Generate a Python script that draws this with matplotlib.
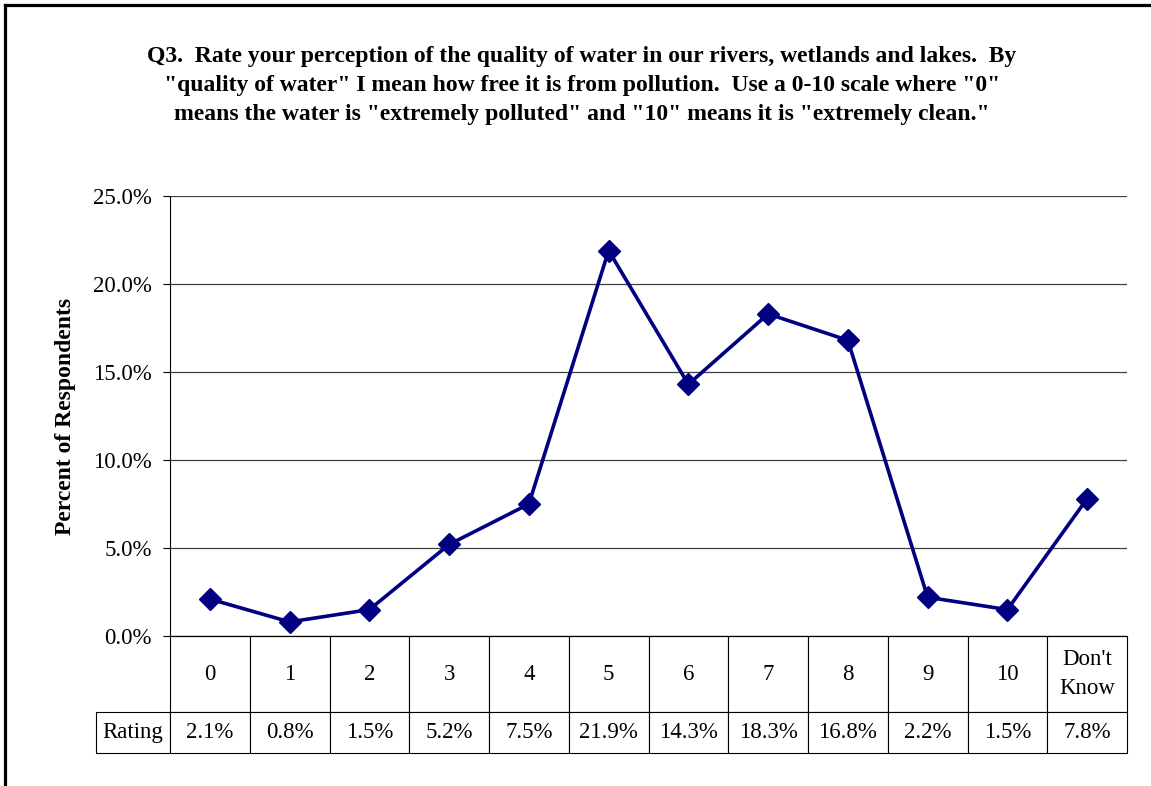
import matplotlib.pyplot as plt
from matplotlib.lines import Line2D

categories = ["0", "1", "2", "3", "4", "5", "6", "7", "8", "9", "10", "Don't\nKnow"]
pct = [2.1, 0.8, 1.5, 5.2, 7.5, 21.9, 14.3, 18.3, 16.8, 2.2, 1.5, 7.8]
row_label = "Rating"
yticks = [0, 5, 10, 15, 20, 25]
title = ('Q3.  Rate your perception of the quality of water in our rivers, wetlands and lakes.  By\n'
         '"quality of water" I mean how free it is from pollution.  Use a 0-10 scale where "0"\n'
         'means the water is "extremely polluted" and "10" means it is "extremely clean."')
caption = "Figure 3:  Rating by Area Residents of Water Quality"

plt.rcParams["font.family"] = ["Liberation Serif", "DejaVu Serif"]

W, H = 1151, 786
fig = plt.figure(figsize=(W / 100, H / 100), dpi=100)
ax = fig.add_axes([170 / W, 150 / H, 957 / W, 440 / H])

x = list(range(len(categories)))
ax.plot(x, pct, color="#000080", lw=2.6, marker="D", ms=11.5, zorder=3)
ax.set_xlim(-0.5, len(categories) - 0.5)
ax.set_ylim(0, 25)
ax.set_yticks(yticks)
ax.set_yticklabels([f"{v:.1f}%" for v in yticks], fontsize=16.5)
ax.tick_params(axis="y", length=5, width=0.8, pad=8)
ax.set_xticks([])
ax.grid(axis="y", color="#404040", lw=0.9)
ax.set_axisbelow(True)
for s in ["top", "right"]:
    ax.spines[s].set_visible(False)
ax.spines["left"].set_linewidth(0.8)
ax.spines["bottom"].set_linewidth(0.8)
ax.set_ylabel("Percent of Respondents", fontsize=17, fontweight="bold", labelpad=12)

# data table under the axis, like the spreadsheet chart
cell_text = [[row_label] + [f"{v:.1f}%" for v in pct]]
col_labels = [""] + categories
tbl = ax.table(cellText=cell_text, colLabels=col_labels, cellLoc="center",
               bbox=[-74 / 957, -117 / 440, 1031 / 957, 117 / 440])
tbl.auto_set_font_size(False)
tbl.set_fontsize(16.5)
for (r, c), cell in tbl.get_celld().items():
    cell.set_linewidth(0.8)
    cell.set_height(76 if r == 0 else 41)
    cell.set_width(74 if c == 0 else 79.75)
    cell.PAD = 0.02
    cell.get_text().set_linespacing(1.55)
    if r == 0 and c == 0:
        cell.visible_edges = ""

fig.suptitle(title, x=582 / W, y=1 - 46 / H, fontsize=17, fontweight="bold",
             linespacing=1.5, va="top")

# clipped caption of the page above the chart
fig.text(10 / W, 1 + 5 / H, caption, fontsize=17, fontweight="bold", va="baseline")

# frame around the chart area
fig.add_artist(Line2D([5 / W, 5 / W], [0, 1 - 5 / H], color="black", lw=2.3))
fig.add_artist(Line2D([5 / W, 1], [1 - 5 / H, 1 - 5 / H], color="black", lw=2.3))

fig.savefig("out.png", dpi=100)
